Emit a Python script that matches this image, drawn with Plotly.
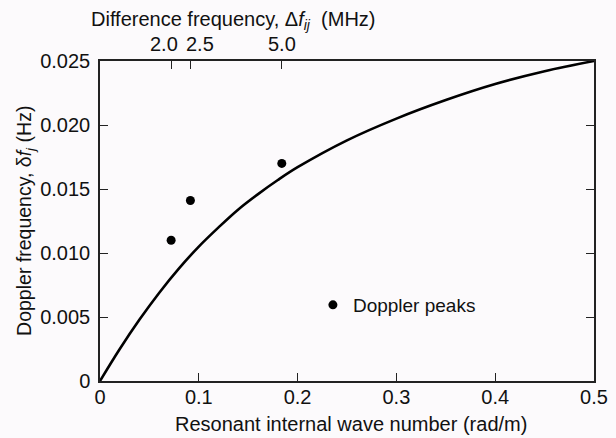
import plotly.graph_objects as go

# Model curve
curve_k = [0, 0.02, 0.04, 0.06, 0.08, 0.10, 0.12, 0.14, 0.16, 0.18, 0.20,
           0.25, 0.30, 0.35, 0.40, 0.45, 0.50]
curve_df = [0, 0.0025, 0.0048, 0.0069, 0.0088, 0.0105, 0.0120, 0.0134,
            0.0146, 0.0157, 0.0167, 0.0188, 0.0205, 0.02195, 0.0232, 0.0242, 0.0250]

# Doppler peaks
peak_k = [0.072, 0.0915, 0.184]
peak_df = [0.0110, 0.0141, 0.0170]

# Axis ticks
x_ticks = [0, 0.1, 0.2, 0.3, 0.4, 0.5]
x_ticklabels = ["0", "0.1", "0.2", "0.3", "0.4", "0.5"]
y_ticks = [0, 0.005, 0.010, 0.015, 0.020, 0.025]
y_ticklabels = ["0", "0.005", "0.010", "0.015", "0.020", "0.025"]
top_ticks = [0.072, 0.0915, 0.184]
top_ticklabels = ["2.0", "2.5", "5.0"]
top_label_shift = [-7, 10, 0]

FONT = "Liberation Sans, Arial, Helvetica, sans-serif"
BG = "#fcfafc"

fig = go.Figure()
fig.add_trace(go.Scatter(x=curve_k, y=curve_df, mode="lines",
                         line=dict(color="black", width=2.6, shape="spline", smoothing=1.0),
                         showlegend=False, hoverinfo="skip"))
fig.add_trace(go.Scatter(x=peak_k, y=peak_df, mode="markers", name="Doppler peaks",
                         marker=dict(color="black", size=9), showlegend=True))
# invisible trace to host top axis
fig.add_trace(go.Scatter(x=[0, 0.5], y=[0, 0.025], xaxis="x2", mode="markers",
                         marker=dict(opacity=0), showlegend=False, hoverinfo="skip"))

fig.update_layout(
    width=616, height=438,
    margin=dict(l=100, r=22, t=61, b=57),
    paper_bgcolor=BG, plot_bgcolor=BG,
    font=dict(family=FONT, size=20, color="#111"),
    xaxis=dict(range=[0, 0.5], tickvals=x_ticks, ticktext=x_ticklabels,
               ticks="inside", ticklen=8, tickwidth=1.3, tickcolor="#222",
               showline=True, linecolor="#222", linewidth=1.5, mirror=True,
               showgrid=False, zeroline=False, automargin=False,
               ticklabelstandoff=-3),
    xaxis2=dict(range=[0, 0.5], overlaying="x", side="top", tickvals=top_ticks,
                ticks="inside", ticklen=8, tickwidth=1.3, tickcolor="#222",
                showticklabels=False, showline=False, showgrid=False, zeroline=False),
    yaxis=dict(range=[0, 0.025], tickvals=y_ticks, ticktext=y_ticklabels,
               ticks="inside", ticklen=8, tickwidth=1.3, tickcolor="#222",
               showline=True, linecolor="#222", linewidth=1.5, mirror="ticks",
               showgrid=False, zeroline=False, automargin=False,
               ticklabelstandoff=4),
    legend=dict(x=0.431, y=0.2375, xanchor="left", yanchor="middle",
                bgcolor="rgba(0,0,0,0)", font=dict(size=19), itemwidth=30),
)

annotations = [
    dict(text="Doppler frequency, δ<i>f</i><sub><i>j</i></sub> (Hz)", xref="paper", yref="paper",
         x=-0.152, y=0.5, textangle=-90, showarrow=False, xanchor="center", yanchor="middle",
         font=dict(size=19.5)),
    dict(text="Difference frequency, Δ<i>f</i><sub><i>ij</i></sub>  (MHz)", xref="paper", yref="paper",
         x=0.271, y=1.128, showarrow=False, xanchor="center", yanchor="middle",
         font=dict(size=20)),
    dict(text="Resonant internal wave number (rad/m)", xref="paper", yref="paper",
         x=0.508, y=-0.134, showarrow=False, xanchor="center", yanchor="middle",
         font=dict(size=20)),
]
for tv, tl, sh in zip(top_ticks, top_ticklabels, top_label_shift):
    annotations.append(dict(text=tl, x=tv, y=1, xref="x", yref="paper", yanchor="bottom",
                            xanchor="center", xshift=sh, yshift=4, showarrow=False,
                            font=dict(size=20)))
fig.update_layout(annotations=annotations)

fig.write_html("out.html")
